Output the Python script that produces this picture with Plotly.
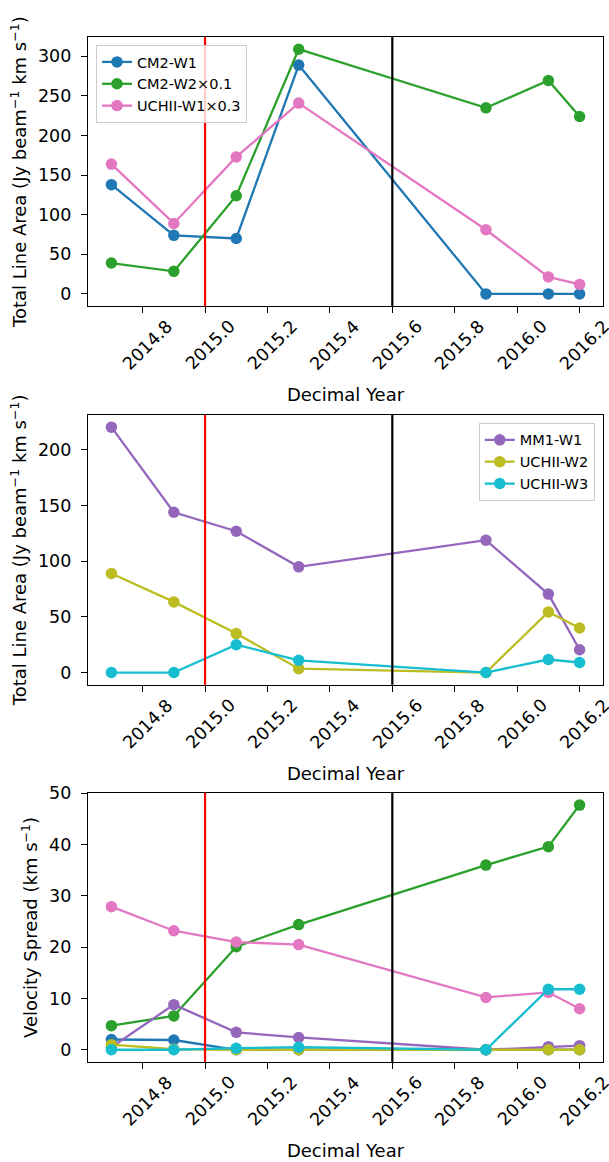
import plotly.graph_objects as go

# ---------------- data ----------------
years = [2014.7, 2014.9, 2015.1, 2015.3, 2015.9, 2016.1, 2016.2]

# panel 1: total line area
cm2_w1_area = [138, 74, 70, 289, 0, 0, 0]
cm2_w2_area_x01 = [39, 28.5, 124, 309, 235, 269.5, 224]
uchii_w1_area_x03 = [164, 89, 173, 241, 81, 21.5, 12]

# panel 2: total line area
mm1_w1_area = [220.5, 144, 127, 95, 119, 70.5, 20.5]
uchii_w2_area = [89, 63.5, 35, 3.5, 0, 54.5, 40]
uchii_w3_area = [0, 0, 25, 11, 0, 11.7, 9]

# panel 3: velocity spread
cm2_w1_vs = [2.0, 1.9, 0, 0, 0, 0, 0]
cm2_w2_vs = [4.7, 6.6, 20.1, 24.4, 36.0, 39.6, 47.7]
uchii_w1_vs = [27.9, 23.2, 21.0, 20.5, 10.2, 11.2, 8.0]
mm1_w1_vs = [0.5, 8.8, 3.4, 2.4, 0, 0.6, 0.8]
uchii_w2_vs = [1.0, 0.1, 0, 0, 0, 0, 0]
uchii_w3_vs = [0, 0, 0.3, 0.5, 0, 11.8, 11.8]

x_ticks = [2014.8, 2015.0, 2015.2, 2015.4, 2015.6, 2015.8, 2016.0, 2016.2]
x_tick_labels = ["2014.8", "2015.0", "2015.2", "2015.4", "2015.6", "2015.8", "2016.0", "2016.2"]
y1_ticks = [0, 50, 100, 150, 200, 250, 300]
y2_ticks = [0, 50, 100, 150, 200]
y3_ticks = [0, 10, 20, 30, 40, 50]
event_lines = [2015.0, 2015.6]
event_colors = ["#ff0000", "#000000"]

C_BLUE, C_GREEN, C_PINK = "#1f77b4", "#2ca02c", "#e377c2"
C_PURPLE, C_OLIVE, C_CYAN = "#9467bd", "#bcbd22", "#17becf"

FONT = "DejaVu Sans"
TICK_FS = 17.5
TITLE_FS = 18
LEG_FS = 14.5
MS = 11.5
LW = 2.3

fig = go.Figure()


def add(xa, ya, yvals, name, color, legend=None):
    fig.add_trace(go.Scatter(
        x=years, y=yvals, name=name, mode="lines+markers",
        line=dict(color=color, width=LW),
        marker=dict(color=color, size=MS),
        xaxis=xa, yaxis=ya,
        showlegend=legend is not None,
        legend=legend if legend else "legend",
    ))


add("x", "y", cm2_w1_area, "CM2-W1", C_BLUE, "legend")
add("x", "y", cm2_w2_area_x01, "CM2-W2×0.1", C_GREEN, "legend")
add("x", "y", uchii_w1_area_x03, "UCHII-W1×0.3", C_PINK, "legend")

add("x2", "y2", mm1_w1_area, "MM1-W1", C_PURPLE, "legend2")
add("x2", "y2", uchii_w2_area, "UCHII-W2", C_OLIVE, "legend2")
add("x2", "y2", uchii_w3_area, "UCHII-W3", C_CYAN, "legend2")

add("x3", "y3", cm2_w1_vs, "CM2-W1", C_BLUE)
add("x3", "y3", cm2_w2_vs, "CM2-W2", C_GREEN)
add("x3", "y3", uchii_w1_vs, "UCHII-W1", C_PINK)
add("x3", "y3", mm1_w1_vs, "MM1-W1", C_PURPLE)
add("x3", "y3", uchii_w2_vs, "UCHII-W2", C_OLIVE)
add("x3", "y3", uchii_w3_vs, "UCHII-W3", C_CYAN)


def pad_range(vals_list):
    lo = min(min(v) for v in vals_list)
    hi = max(max(v) for v in vals_list)
    m = 0.05 * (hi - lo)
    return [lo - m, hi + m]


xr = pad_range([years])
y1r = pad_range([cm2_w1_area, cm2_w2_area_x01, uchii_w1_area_x03])
y2r = pad_range([mm1_w1_area, uchii_w2_area, uchii_w3_area])
y3r = pad_range([cm2_w1_vs, cm2_w2_vs, uchii_w1_vs, mm1_w1_vs, uchii_w2_vs, uchii_w3_vs])

axis_common = dict(
    showline=True, linecolor="black", linewidth=1.2, mirror=True,
    ticks="outside", ticklen=6, tickwidth=1.2, tickcolor="black",
    showgrid=False, zeroline=False,
    tickfont=dict(family=FONT, size=TICK_FS, color="black"),
)

domains = [[0.7374, 1.0], [0.3680, 0.6313], [0.0, 0.2626]]
yranges = [y1r, y2r, y3r]
yticks = [y1_ticks, y2_ticks, y3_ticks]
ytitles = [
    "Total Line Area (Jy beam<sup>−1</sup> km s<sup>−1</sup>)",
    "Total Line Area (Jy beam<sup>−1</sup> km s<sup>−1</sup>)",
    "Velocity Spread (km s<sup>−1</sup>)",
]

layout = dict(
    width=609, height=1162,
    margin=dict(l=88, r=5, t=37, b=97),
    paper_bgcolor="white", plot_bgcolor="white",
    font=dict(family=FONT, color="black"),
    showlegend=True,
)

annotations = []
shapes = []
for i in range(3):
    sx = "" if i == 0 else str(i + 1)
    layout["xaxis" + sx] = dict(
        axis_common, range=xr, tickvals=x_ticks, showticklabels=False,
        anchor="y" + sx, domain=[0, 1],
        title=dict(text="Decimal Year", font=dict(family=FONT, size=TITLE_FS), standoff=76),
    )
    layout["yaxis" + sx] = dict(
        axis_common, range=yranges[i], tickvals=yticks[i], domain=domains[i],
        anchor="x" + sx, ticklabelstandoff=6,
        title=dict(text=ytitles[i], font=dict(family=FONT, size=TITLE_FS), standoff=6),
    )
    for tv, tl in zip(x_ticks, x_tick_labels):
        annotations.append(dict(
            x=tv, y=0, xref="x" + sx, yref=("y" + sx) + " domain",
            text=tl, showarrow=False, textangle=-45, borderpad=0,
            xanchor="center", yanchor="top", yshift=-9, xshift=5,
            font=dict(family=FONT, size=TICK_FS, color="black"),
        ))
    for ev, col in zip(event_lines, event_colors):
        shapes.append(dict(
            type="line", xref="x" + sx, yref=("y" + sx) + " domain",
            x0=ev, x1=ev, y0=0, y1=1, line=dict(color=col, width=2.2), layer="above",
        ))

layout["annotations"] = annotations
layout["shapes"] = shapes
layout["legend"] = dict(
    x=0.0155, y=0.9922, xanchor="left", yanchor="top",
    bgcolor="rgba(255,255,255,0.8)", bordercolor="#cccccc", borderwidth=1,
    font=dict(family=FONT, size=LEG_FS, color="black"),
)
layout["legend2"] = dict(
    x=0.984, y=0.6235, xanchor="right", yanchor="top",
    bgcolor="rgba(255,255,255,0.8)", bordercolor="#cccccc", borderwidth=1,
    font=dict(family=FONT, size=LEG_FS, color="black"),
)

fig.update_layout(**layout)
fig.write_html("out.html", config={"displayModeBar": False},
               post_script="document.body.style.margin='0';")
